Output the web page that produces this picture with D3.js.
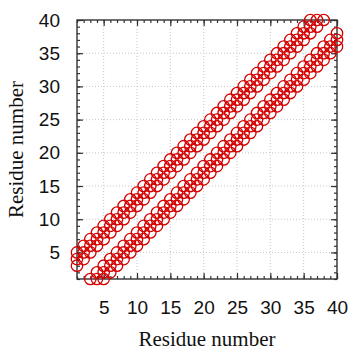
<!DOCTYPE html>
<html>
<head>
<meta charset="utf-8">
<script src="https://cdn.jsdelivr.net/npm/d3@7"></script>
<style>
  html, body { margin: 0; padding: 0; background: #fff; }
</style>
</head>
<body>
<div id="chart"></div>
<script>
// residue contact map: each residue (x) against the residues it pairs with (y)
var residues = [1, 2, 3, 4, 5, 6, 7, 8, 9, 10, 11, 12, 13, 14, 15, 16, 17, 18, 19, 20,
                21, 22, 23, 24, 25, 26, 27, 28, 29, 30, 31, 32, 33, 34, 35, 36, 37, 38, 39, 40];

var partners = [
  [3, 4, 5],
  [4, 5, 6],
  [1, 5, 6, 7],
  [1, 2, 6, 7, 8],
  [1, 2, 3, 7, 8, 9],
  [2, 3, 4, 8, 9, 10],
  [3, 4, 5, 9, 10, 11],
  [4, 5, 6, 10, 11, 12],
  [5, 6, 7, 11, 12, 13],
  [6, 7, 8, 12, 13, 14],
  [7, 8, 9, 13, 14, 15],
  [8, 9, 10, 14, 15, 16],
  [9, 10, 11, 15, 16, 17],
  [10, 11, 12, 16, 17, 18],
  [11, 12, 13, 17, 18, 19],
  [12, 13, 14, 18, 19, 20],
  [13, 14, 15, 19, 20, 21],
  [14, 15, 16, 20, 21, 22],
  [15, 16, 17, 21, 22, 23],
  [16, 17, 18, 22, 23, 24],
  [17, 18, 19, 23, 24, 25],
  [18, 19, 20, 24, 25, 26],
  [19, 20, 21, 25, 26, 27],
  [20, 21, 22, 26, 27, 28],
  [21, 22, 23, 27, 28, 29],
  [22, 23, 24, 28, 29, 30],
  [23, 24, 25, 29, 30, 31],
  [24, 25, 26, 30, 31, 32],
  [25, 26, 27, 31, 32, 33],
  [26, 27, 28, 32, 33, 34],
  [27, 28, 29, 33, 34, 35],
  [28, 29, 30, 34, 35, 36],
  [29, 30, 31, 35, 36, 37],
  [30, 31, 32, 36, 37, 38],
  [31, 32, 33, 37, 38, 39],
  [32, 33, 34, 38, 39, 40],
  [33, 34, 35, 39, 40],
  [34, 35, 36, 40],
  [35, 36, 37],
  [36, 37, 38]
];

var xTicks = [5, 10, 15, 20, 25, 30, 35, 40];
var yTicks = [5, 10, 15, 20, 25, 30, 35, 40];

var width = 359, height = 357;
// plot box (don't call these top/left: window.top is taken)
var plotL = 77, plotR = 337, plotT = 20, plotB = 279;

var svg = d3.select("#chart")
    .append("svg")
    .attr("width", width)
    .attr("height", height);

var x = d3.scaleLinear().domain([1, 40]).range([plotL, plotR]);
var y = d3.scaleLinear().domain([1, 40]).range([plotB, plotT]);

// dotted grid at the major ticks
var grid = svg.append("g");
xTicks.filter(function(t) { return t < 40; }).forEach(function(t) {
    grid.append("line")
        .attr("x1", x(t)).attr("x2", x(t))
        .attr("y1", plotT).attr("y2", plotB)
        .style("stroke", "#c8c8c8")
        .style("stroke-width", 1)
        .style("stroke-dasharray", "1,2");
});
yTicks.filter(function(t) { return t < 40; }).forEach(function(t) {
    grid.append("line")
        .attr("x1", plotL).attr("x2", plotR)
        .attr("y1", y(t)).attr("y2", y(t))
        .style("stroke", "#c8c8c8")
        .style("stroke-width", 1)
        .style("stroke-dasharray", "1,2");
});

// ticks point inward on all four sides; minor every residue, major every 5
var minor = d3.range(1, 41);

function addAxis(axis, tx, ty, labels) {
    var g = svg.append("g")
        .attr("transform", "translate(" + tx + "," + ty + ")")
        .call(axis);
    g.select(".domain").remove();
    g.selectAll(".tick line").style("stroke", "#333").style("stroke-width", 1.2);
    if (!labels) g.selectAll(".tick text").remove();
    return g;
}

var tf = function() { return ""; };

addAxis(d3.axisBottom(x).tickValues(minor).tickSize(-3).tickFormat(tf), 0, plotB, false);
addAxis(d3.axisTop(x).tickValues(minor).tickSize(-3).tickFormat(tf), 0, plotT, false);
addAxis(d3.axisLeft(y).tickValues(minor).tickSize(-3).tickFormat(tf), plotL, 0, false);
addAxis(d3.axisRight(y).tickValues(minor).tickSize(-3).tickFormat(tf), plotR, 0, false);

addAxis(d3.axisBottom(x).tickValues(xTicks).tickSize(-6).tickPadding(22), 0, plotB, true);
addAxis(d3.axisTop(x).tickValues(xTicks).tickSize(-6).tickFormat(tf), 0, plotT, false);
addAxis(d3.axisLeft(y).tickValues(yTicks).tickSize(-6).tickPadding(17), plotL, 0, true);
addAxis(d3.axisRight(y).tickValues(yTicks).tickSize(-6).tickFormat(tf), plotR, 0, false);

svg.selectAll(".tick text")
    .style("font-family", "'Liberation Sans', Arial, sans-serif")
    .style("font-size", "19px")
    .style("fill", "#111");

// frame
svg.append("rect")
    .attr("x", plotL).attr("y", plotT)
    .attr("width", plotR - plotL).attr("height", plotB - plotT)
    .style("fill", "none")
    .style("stroke", "#333")
    .style("stroke-width", 1.4);

// contacts
var points = [];
residues.forEach(function(r, i) {
    partners[i].forEach(function(p) { points.push([r, p]); });
});

svg.append("g")
    .selectAll("circle")
    .data(points)
    .enter().append("circle")
    .attr("cx", function(d) { return x(d[0]); })
    .attr("cy", function(d) { return y(d[1]); })
    .attr("r", 5.7)
    .style("fill", "none")
    .style("stroke", "#d40000")
    .style("stroke-width", 1.3);

// axis titles
svg.append("text")
    .attr("x", (plotL + plotR) / 2)
    .attr("y", 346)
    .attr("text-anchor", "middle")
    .style("font-family", "'Liberation Serif', 'Times New Roman', serif")
    .style("font-size", "21px")
    .style("fill", "#111")
    .text("Residue number");

svg.append("text")
    .attr("transform", "translate(23," + ((plotT + plotB) / 2) + ") rotate(-90)")
    .attr("text-anchor", "middle")
    .style("font-family", "'Liberation Serif', 'Times New Roman', serif")
    .style("font-size", "21px")
    .style("fill", "#111")
    .text("Residue number");
</script>
</body>
</html>
